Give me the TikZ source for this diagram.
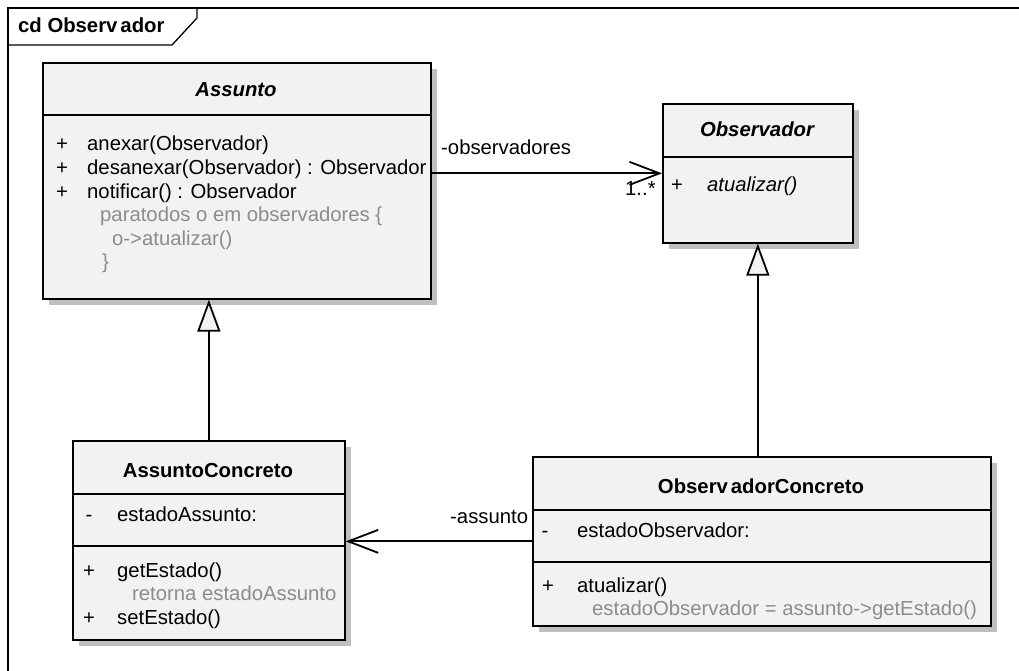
\documentclass[tikz,border=0pt]{standalone}
\usepackage{fontspec}
\setmainfont{Liberation Sans}
\usetikzlibrary{arrows.meta,shadows}
\definecolor{boxfill}{HTML}{F2F2F2}
\definecolor{shade}{HTML}{BFBFBF}
\definecolor{notegray}{HTML}{8C8C8C}
\begin{document}
\begin{tikzpicture}[x=1pt,y=-1pt,
  txt/.style={anchor=base west,inner sep=0pt,font=\fontsize{20.3}{24}\selectfont},
  vis/.style={anchor=base,inner sep=0pt,font=\fontsize{20.3}{24}\selectfont},
  note/.style={txt,text=notegray},
  head/.style={anchor=base,inner sep=0pt,font=\fontsize{20.3}{24}\selectfont\bfseries},
  classbox/.style={draw=black,line width=1.7pt,fill=boxfill,inner sep=0pt,
    anchor=north west,
    drop shadow={shadow xshift=6pt,shadow yshift=-6pt,fill=shade,opacity=1}},
  sep/.style={draw=black,line width=1.7pt},
  frame/.style={draw=black,line width=1.3pt},
  assoc/.style={line width=1.8pt,-{Straight Barb[length=30pt,width=23pt]}},
  gen/.style={line width=1.8pt,-{Triangle[length=32pt,width=23pt,fill=boxfill]}}]
\useasboundingbox (0,0) rectangle (1019,671);

% diagram frame and its name tab
\draw[frame] (1019,8) -- (8,8) -- (8,671);
\draw[frame] (8,45) -- (172,45) -- (197,18) -- (197,8);
\node[txt] (title) at (18,33) {\bfseries cd Observ\kern3pt ador};

% abstract subject
\node[classbox,minimum width=388pt,minimum height=236pt] (assunto) at (42,62) {};
\draw[sep] (assunto.west |- 0,115) -- (assunto.east |- 0,115);
\node[head] (assunto-name) at (236,97) {\itshape Assunto};
\node[vis] (a-v1) at (62,151) {+};
\node[txt] (a-m1) at (87,151) {anexar(Observador)};
\node[vis] (a-v2) at (62,174.5) {+};
\node[txt] (a-m2) at (87,174.5) {desanexar(Observador) : Observador};
\node[vis] (a-v3) at (62,198) {+};
\node[txt] (a-m3) at (87,198) {notificar() : Observador};
\node[note] (a-n1) at (100,221.5) {paratodos o em observadores \{};
\node[note] (a-n2) at (112,245) {o->atualizar()};
\node[note] (a-n3) at (102,268.5) {\}};

% abstract observer
\node[classbox,minimum width=190pt,minimum height=139pt] (obs) at (662,103) {};
\draw[sep] (obs.west |- 0,157) -- (obs.east |- 0,157);
\node[head] (obs-name) at (757,137) {\itshape Observador};
\node[vis] (o-v1) at (677,191.5) {+};
\node[txt] (o-m1) at (707,191.5) {\itshape atualizar()};

% concrete subject
\node[classbox,minimum width=272pt,minimum height=199pt] (ac) at (72,440) {};
\draw[sep] (ac.west |- 0,494) -- (ac.east |- 0,494);
\draw[sep] (ac.west |- 0,546) -- (ac.east |- 0,546);
\node[head] (ac-name) at (208,477) {AssuntoConcreto};
\node[vis] (ac-v1) at (89,521) {-};
\node[txt] (ac-f1) at (117,521) {estadoAssunto:};
\node[vis] (ac-v2) at (89,577) {+};
\node[txt] (ac-m1) at (117,577) {getEstado()};
\node[note] (ac-n1) at (132,600.5) {retorna estadoAssunto};
\node[vis] (ac-v3) at (89,624) {+};
\node[txt] (ac-m2) at (117,624) {setEstado()};

% concrete observer
\node[classbox,minimum width=458pt,minimum height=169pt] (oc) at (532,456) {};
\draw[sep] (oc.west |- 0,510) -- (oc.east |- 0,510);
\draw[sep] (oc.west |- 0,562) -- (oc.east |- 0,562);
\node[head] (oc-name) at (761,493) {Observ\kern3pt adorConcreto};
\node[vis] (oc-v1) at (545,537) {-};
\node[txt] (oc-f1) at (577,537) {estadoObservador:};
\node[vis] (oc-v2) at (548,592) {+};
\node[txt] (oc-m1) at (577,592) {atualizar()};
\node[note] (oc-n1) at (592,615.5) {estadoObservador = assunto->getEstado()};

% associations
\draw[assoc] (obs.west -| assunto.east) -- (obs.west);
\node[txt] (role-obs) at (441,155) {-observadores};
\node[txt] (mult-obs) at (625,195) {1..*};
\draw[assoc] (oc.west) -- (oc.west -| ac.east);
\node[txt] (role-ass) at (450,523) {-assunto};

% generalizations
\draw[gen] (ac.north) -- (ac.north |- assunto.south);
\draw[gen] (obs.south |- oc.north) -- (obs.south);
\end{tikzpicture}
\end{document}
